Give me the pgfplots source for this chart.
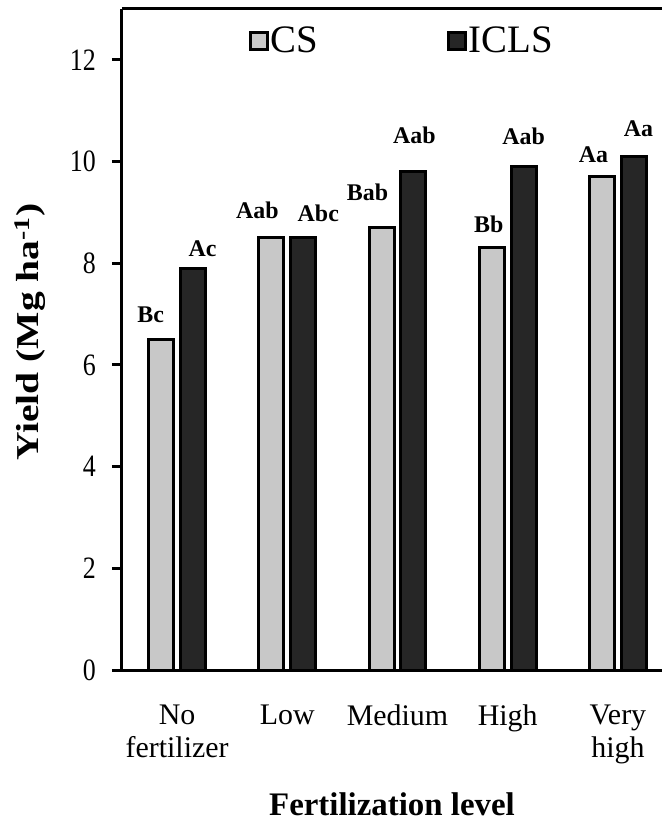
\documentclass[border=0pt]{standalone}
\usepackage{fontspec}
\setmainfont{Liberation Serif}
\usepackage{pgfplots}
\pgfplotsset{compat=1.18}
\usepackage{pgfplotstable}
\definecolor{csgray}{RGB}{200,200,200}
\definecolor{iclsdark}{RGB}{38,38,38}
\pgfplotsset{sqlegend/.style={legend image code/.code={\draw[##1, line width=3bp] (1.5bp,-8.5bp) rectangle (18bp,8bp);}}}

\pgfplotstableread{
x y label dx dy
0 6.5 Bc -10.5 16.5
1 8.5 Aab -14 19.5
2 8.7 Bab -14 27
3 8.3 Bb -3 15.5
4 9.7 Aa -8.5 14
}\csdata

\pgfplotstableread{
x y label dx dy
0 7.9 Ac 9.5 11.5
1 8.5 Abc 15 16.5
2 9.8 Aab 1 28.5
3 9.9 Aab 0 22
4 10.1 Aa 4.5 20
}\iclsdata

\begin{document}
\begin{tikzpicture}
\begin{axis}[
  scale only axis, width=540bp, height=661bp,
  xmin=-0.5, xmax=4.4, ymin=0, ymax=13,
  axis x line=box, axis y line=left,
  axis line style={-, line width=3bp, black},
  xtick={0,1,2,3,4},
  xticklabels={{No\\fertilizer},Low,Medium,High,{Very\\high}},
  xtick style={draw=none},
  ytick={0,2,4,6,8,10,12},
  ytick style={line width=3bp, black},
  major tick length=10bp,
  tick align=outside,
  /pgf/number format/assume math mode=true,
  yticklabel style={font=\fontsize{26}{26}\selectfont, yscale=1.2, anchor=east, inner sep=0pt, xshift=-16bp},
  xticklabel style={font=\fontsize{30}{33}\selectfont, align=center, anchor=north, inner sep=0pt, yshift=-25bp},
  xlabel={Fertilization level},
  xlabel style={font=\bfseries\fontsize{33}{33}\selectfont, at={([yshift=-145bp]axis description cs:0.5,0)}, anchor=base},
  ylabel={Yield (Mg ha\textsuperscript{-1})},
  ylabel style={font=\bfseries\fontsize{32}{32}\selectfont, xscale=1.24, at={([xshift=-92bp]axis description cs:0,0.511)}, anchor=center},
  legend columns=2,
  legend style={at={(axis description cs:0.235,0.952)}, anchor=west, draw=none, fill=none, inner sep=0pt,
    font=\fontsize{39}{39}\selectfont,
    /tikz/every odd column/.append style={column sep=2bp},
    /tikz/every even column/.append style={column sep=129bp},
    nodes={inner sep=0pt}},
  ybar, bar width=0.227,
  point meta=explicit symbolic,
  nodes near coords,
  every node near coord/.append style={font=\bfseries\fontsize{24}{24}\selectfont, anchor=base, inner sep=0pt, xshift=\dx bp, yshift=\dy bp},
  visualization depends on={\thisrow{dx} \as \dx},
  visualization depends on={\thisrow{dy} \as \dy},
]
\addplot[draw=black, line width=3bp, fill=csgray, bar shift=-0.145, sqlegend]
  table[x=x, y=y, meta=label] {\csdata};
\addlegendentry{CS}
\addplot[draw=black, line width=3bp, fill=iclsdark, bar shift=0.145, sqlegend]
  table[x=x, y=y, meta=label] {\iclsdata};
\addlegendentry{ICLS}
\coordinate (SW) at (rel axis cs:0,0);
\coordinate (NE) at (rel axis cs:1,1);
\end{axis}
\pgfresetboundingbox
\path ([shift={(-122bp,-152bp)}]SW) rectangle ([shift={(0bp,9bp)}]NE);
\end{tikzpicture}
\end{document}
